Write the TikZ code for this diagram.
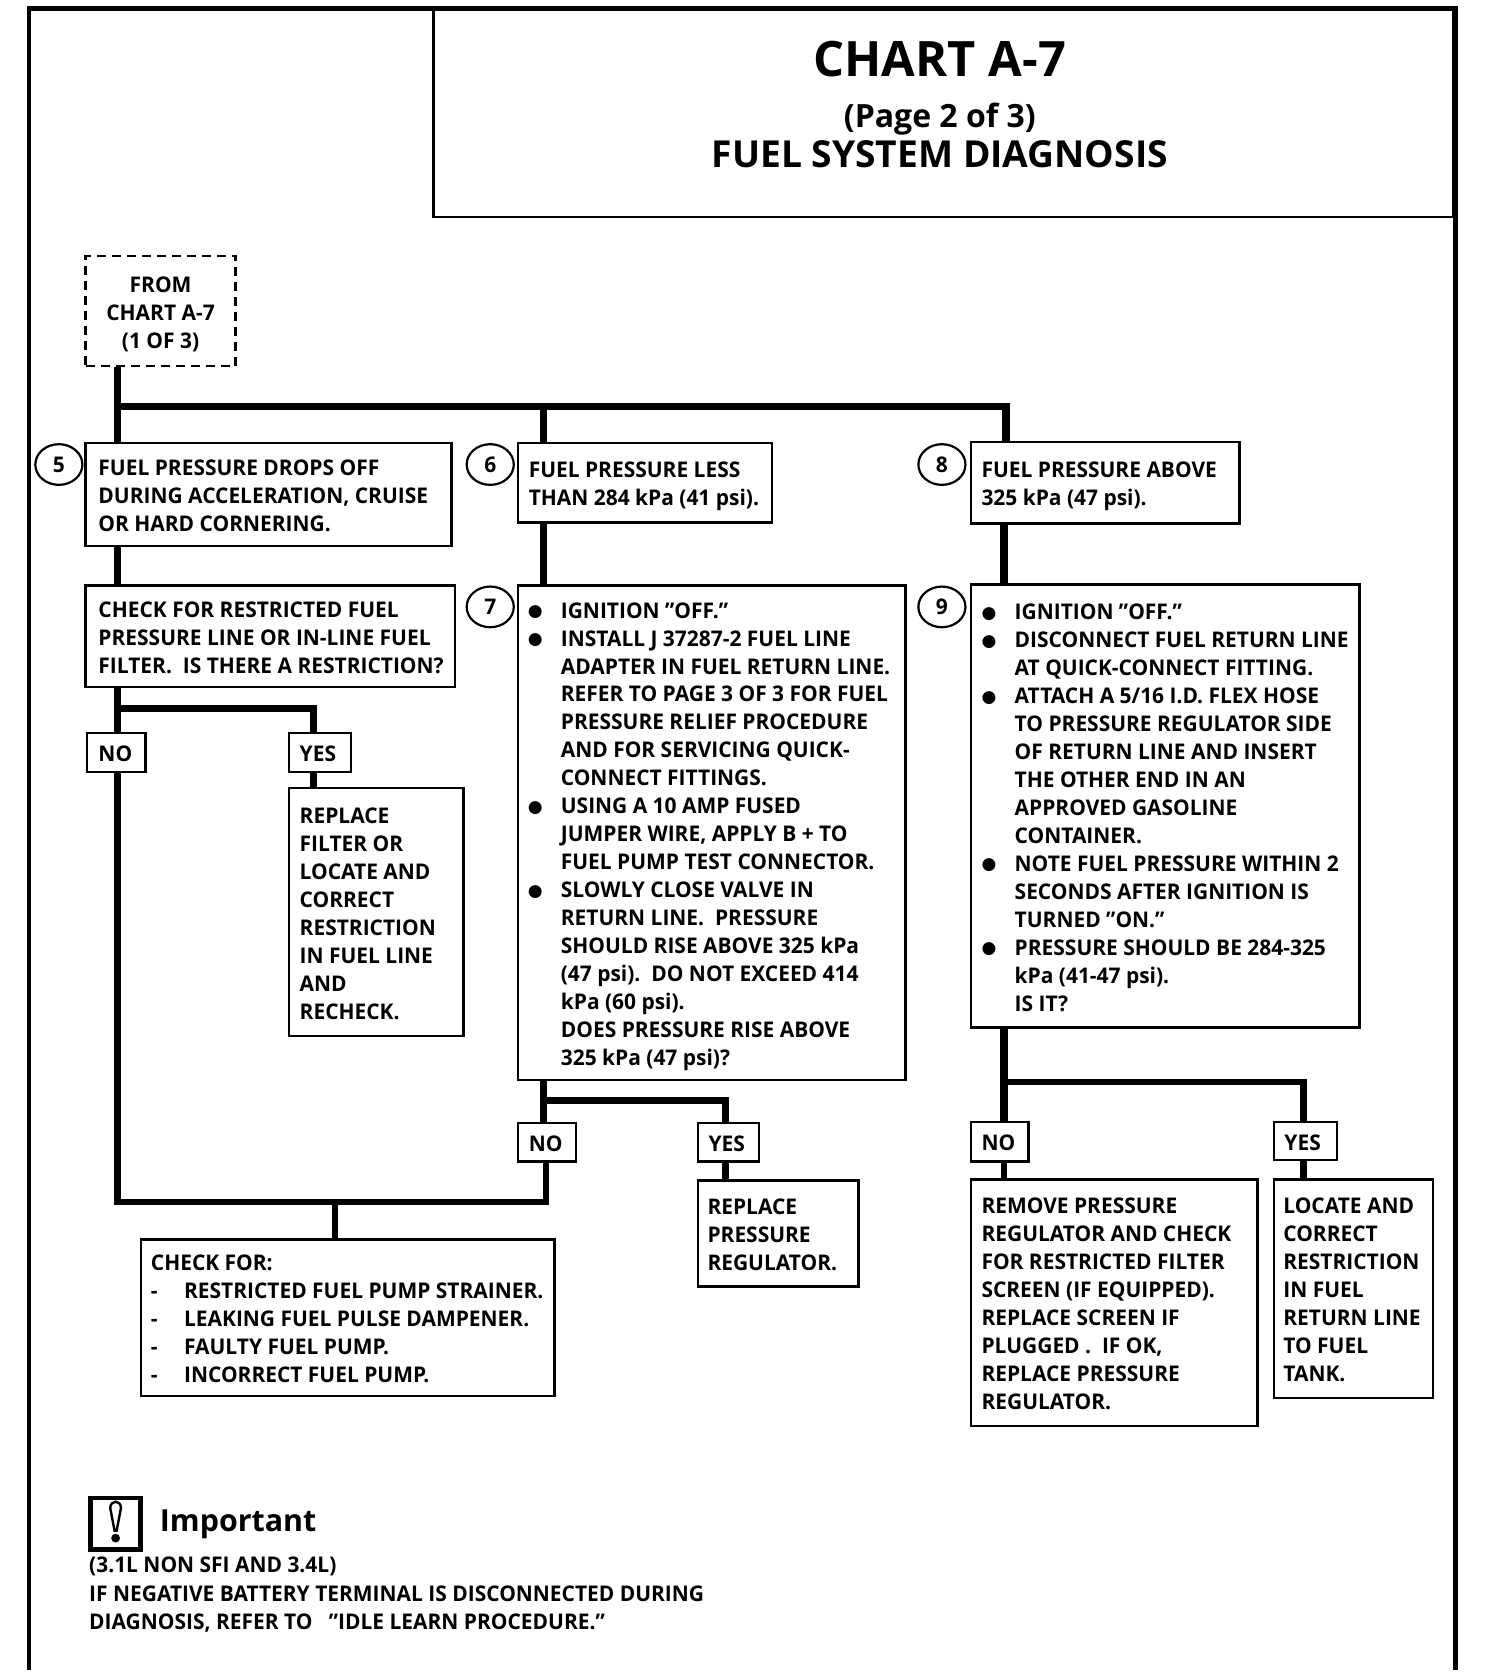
\documentclass[tikz,border=0pt]{standalone}
\usepackage{fontspec}
\setmainfont{Open Sans}
\newfontfamily\bodyfam[FakeStretch=0.97]{Open Sans}
\newfontfamily\symfam{DejaVu Sans}
\usetikzlibrary{shapes.geometric}
\newdimen\ulen \ulen=0.5353pt
\newcommand{\bodyfont}{\bodyfam\fontsize{10.8}{14}\selectfont\bfseries}
\newcommand{\bl}{\llap{\makebox[0pt][c]{\smash{\raisebox{0.6pt}{\symfam\fontsize{8.5}{10}\selectfont ●}}}\hspace{24\ulen}}}
\tikzset{
  boxst/.style={draw=black,line width=1.2pt,inner sep=0pt,font=\bodyfont,fill=white},
  dashbox/.style={boxst,dashed,dash pattern=on 4.5pt off 3pt},
  numst/.style={draw=black,line width=1.1pt,ellipse,inner sep=0pt,minimum width=44\ulen,minimum height=38\ulen,font=\bodyfont},
  heavy/.style={line width=3.7pt,line cap=butt},
  conn/.style={line width=3.3pt,line cap=butt},
  framest/.style={line width=2.4pt},
  plain/.style={inner sep=0pt,font=\bodyfont,align=left},
}
\newcommand{\mk}[8][boxst]{\def\tabbody{#8}\node[#1,minimum width={(#5-#3)*0.5353pt},minimum height={(#6-#4)*0.5353pt}] (#2) at ({(#3+#5)/2},{(#4+#6)/2})
  {\makebox[\dimexpr\numexpr#5-#3\relax\ulen\relax][l]{\hspace*{#7\ulen}\baselineskip=13.93pt\raisebox{-8.5\ulen}[0pt][0pt]{\begin{tabular}{@{}l@{}}\tabbody\end{tabular}}}};}
\begin{document}
\begin{tikzpicture}[x=0.5353pt,y=-0.5353pt]
\useasboundingbox (0,0) rectangle (1390,1567.7);
\fill[white] (0,0) rectangle (1390,1567.7);
% frame
\draw[framest] (27,1560) -- (27,8) -- (1360,8) -- (1360,1560);
\node[draw=black,line width=1.2pt,minimum width={(1358-405)*0.5353pt},minimum height={(203-8)*0.5353pt},inner sep=0pt] (title) at (881.5,105.5) {};
\node[inner sep=0pt,font=\fontsize{24.4}{28}\selectfont\bfseries] (t1) at (878,55) {CHART A-7};
\node[inner sep=0pt,font=\fontsize{16}{20}\selectfont\bfseries] (t2) at (878,111.5) {(Page 2 of 3)};
\node[inner sep=0pt,font=\fontsize{18.6}{22}\selectfont\bfseries] (t3) at (878,144) {FUEL SYSTEM DIAGNOSIS};
% boxes
\mk[dashbox]{from}{80}{239}{220}{342}{0}{\makebox[140\ulen][c]{FROM}\\\makebox[140\ulen][c]{CHART A-7}\\\makebox[140\ulen][c]{(1 OF 3)}}
\mk{b5}{80}{414}{422}{510}{12}{FUEL PRESSURE DROPS OFF\\DURING ACCELERATION, CRUISE\\OR HARD CORNERING.}
\mk{b6}{484}{414}{721}{488}{10}{FUEL PRESSURE LESS\\THAN 284 kPa (41 psi).}
\mk{b8}{907}{413}{1158}{489}{10}{FUEL PRESSURE ABOVE\\325 kPa (47 psi).}
\mk{chk}{80}{547}{425}{642}{12}{CHECK FOR RESTRICTED FUEL\\PRESSURE LINE OR IN-LINE FUEL\\FILTER.\ \ IS THERE A RESTRICTION?}
\mk{b7}{484}{547}{846}{1009}{40}{\bl IGNITION ”OFF.”\\\bl INSTALL J 37287-2 FUEL LINE\\ADAPTER IN FUEL RETURN LINE.\\REFER TO PAGE 3 OF 3 FOR FUEL\\PRESSURE RELIEF PROCEDURE\\AND FOR SERVICING QUICK-\\CONNECT FITTINGS.\\\bl USING A 10 AMP FUSED\\JUMPER WIRE, APPLY B + TO\\FUEL PUMP TEST CONNECTOR.\\\bl SLOWLY CLOSE VALVE IN\\RETURN LINE.\ \ PRESSURE\\SHOULD RISE ABOVE 325 kPa\\(47 psi).\ \ DO NOT EXCEED 414\\kPa (60 psi).\\DOES PRESSURE RISE ABOVE\\325 kPa (47 psi)?}
\mk{b9}{907}{546}{1270}{960}{41}{\bl IGNITION ”OFF.”\\\bl DISCONNECT FUEL RETURN LINE\\AT QUICK-CONNECT FITTING.\\\bl ATTACH A 5/16 I.D. FLEX HOSE\\TO PRESSURE REGULATOR SIDE\\OF RETURN LINE AND INSERT\\THE OTHER END IN AN\\APPROVED GASOLINE\\CONTAINER.\\\bl NOTE FUEL PRESSURE WITHIN 2\\SECONDS AFTER IGNITION IS\\TURNED ”ON.”\\\bl PRESSURE SHOULD BE 284-325\\kPa (41-47 psi).\\IS IT?}
\mk{no1}{81}{685}{136}{721}{11}{NO}
\mk{yes1}{270}{685}{328}{721}{10}{YES}
\mk{rep1}{270}{736}{433}{968}{10}{REPLACE\\FILTER OR\\LOCATE AND\\CORRECT\\RESTRICTION\\IN FUEL LINE\\AND\\RECHECK.}
\mk{no2}{484}{1049}{538}{1085}{10}{NO}
\mk{yes2}{652}{1049}{709}{1085}{10}{YES}
\mk{rep2}{652}{1103}{802}{1202}{9}{REPLACE\\PRESSURE\\REGULATOR.}
\mk{cf}{132}{1158}{518}{1304}{9}{CHECK FOR:\\\makebox[31\ulen][l]{-}RESTRICTED FUEL PUMP STRAINER.\\\makebox[31\ulen][l]{-}LEAKING FUEL PULSE DAMPENER.\\\makebox[31\ulen][l]{-}FAULTY FUEL PUMP.\\\makebox[31\ulen][l]{-}INCORRECT FUEL PUMP.}
\mk{no3}{907}{1048}{961}{1085}{10}{NO}
\mk{yes3}{1190}{1048}{1249}{1084}{10}{YES}
\mk{rem}{907}{1102}{1175}{1332}{10}{REMOVE PRESSURE\\REGULATOR AND CHECK\\FOR RESTRICTED FILTER\\SCREEN (IF EQUIPPED).\\REPLACE SCREEN IF\\PLUGGED .\ \ IF OK,\\REPLACE PRESSURE\\REGULATOR.}
\mk{loc}{1190}{1102}{1339}{1306}{9}{LOCATE AND\\CORRECT\\RESTRICTION\\IN FUEL\\RETURN LINE\\TO FUEL\\TANK.}
% numbers
\node[numst] (n5) at (55,434) {5};
\node[numst] (n6) at (458,434) {6};
\node[numst] (n7) at (458,567) {7};
\node[numst] (n8) at (880,434) {8};
\node[numst] (n9) at (880,567) {9};
% junction coordinates
\coordinate (ja) at (110,380);
\coordinate (jb) at (508,380);
\coordinate (jc) at (940,380);
\coordinate (jd) at (110,662);
\coordinate (je) at (293,662);
\coordinate (jf) at (508,1028);
\coordinate (jg) at (678,1028);
\coordinate (jh) at (938,1011);
\coordinate (ji) at (1218,1011);
\coordinate (jj) at (110,1123);
\coordinate (jk) at (510,1123);
\coordinate (jl) at (313,1123);
% connectors
\draw[heavy] (from.south -| ja) -- (b5.north -| ja);
\draw[heavy] ([xshift=-1.85pt]ja) -- ([xshift=1.85pt]jc);
\draw[heavy] (jb) -- (b6.north -| jb);
\draw[heavy] (jc) -- (b8.north -| jc);
\draw[conn] (b5.south -| ja) -- (chk.north -| ja);
\draw[heavy] (b6.south -| jb) -- (b7.north -| jb);
\draw[heavy] (b8.south -| jh) -- (b9.north -| jh);
\draw[conn] (chk.south -| jd) -- (no1.north -| jd);
\draw[conn] (jd) -- (je) -- (yes1.north -| je);
\draw[conn] (yes1.south -| je) -- (rep1.north -| je);
\draw[conn] (no1.south -| jj) -- (jj) -- (jk) -- (no2.south -| jk);
\draw[conn] (jl) -- (cf.north -| jl);
\draw[conn] (b7.south -| jf) -- (no2.north -| jf);
\draw[conn] (jf) -- (jg) -- (yes2.north -| jg);
\draw[conn] (yes2.south -| jg) -- (rep2.north -| jg);
\draw[heavy] (b9.south -| jh) -- (no3.north -| jh);
\draw[conn] (jh) -- (ji) -- (yes3.north -| ji);
\draw[conn] (no3.south -| jh) -- (rem.north -| jh);
\draw[conn] (yes3.south -| ji) -- (loc.north -| ji);
% important
\node[draw=black,line width=2.4pt,minimum width={47*0.5353pt},minimum height={48*0.5353pt},inner sep=0pt] (icon) at (108,1423.5) {};
\draw[line width=1.2pt,fill=white] (103,1409) .. controls (103,1401) and (113,1401) .. (113,1409) -- (109,1430) -- (107,1430) -- cycle;
\fill (108,1437) circle (2.2pt);
\node[anchor=base west,inner sep=0pt,font=\fontsize{15.2}{20}\selectfont\bfseries] (imp) at (149,1431) {Important};
\node[plain,anchor=west] (i1) at (83,1463) {(3.1L NON SFI AND 3.4L)};
\node[plain,anchor=west] (i2) at (83,1489) {IF NEGATIVE BATTERY TERMINAL IS DISCONNECTED DURING};
\node[plain,anchor=west] (i3) at (83,1516) {DIAGNOSIS, REFER TO \ \ ”IDLE LEARN PROCEDURE.”};
\end{tikzpicture}
\end{document}
